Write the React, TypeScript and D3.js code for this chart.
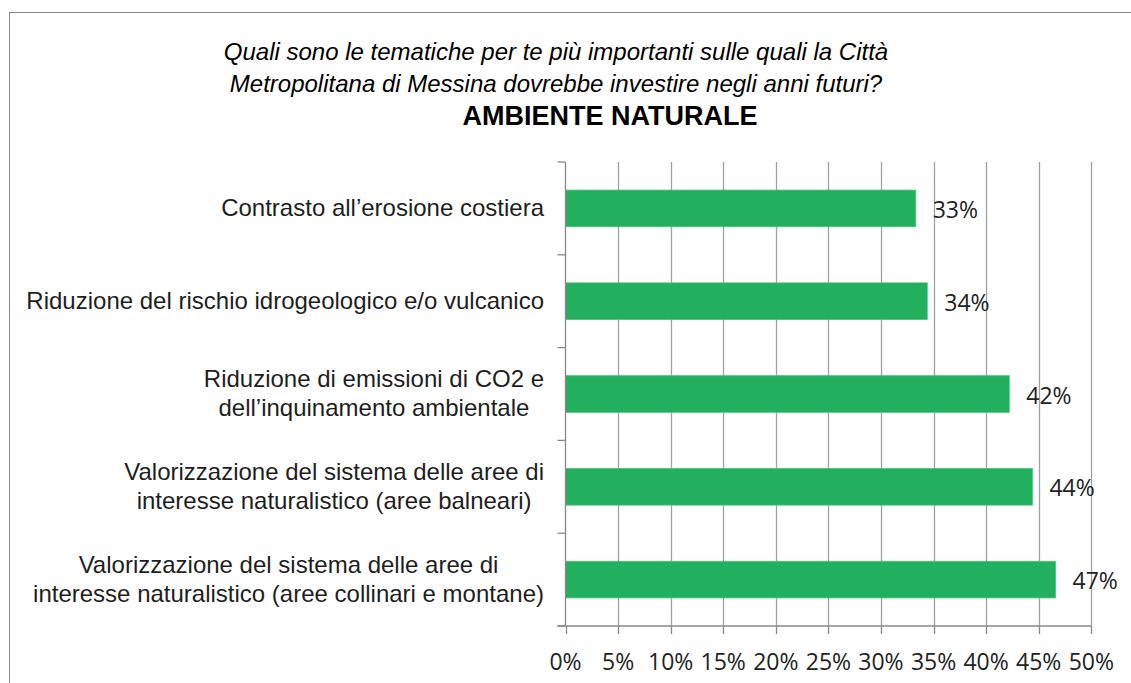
import React from "react";
import * as d3 from "d3";

const titleLines = [
  "Quali sono le tematiche per te più importanti sulle quali la Città",
  "Metropolitana di Messina dovrebbe investire negli anni futuri?",
];
const subtitle = "AMBIENTE NATURALE";

const categories: string[][] = [
  ["Contrasto all’erosione costiera"],
  ["Riduzione del rischio idrogeologico e/o vulcanico"],
  ["Riduzione di emissioni di CO2 e", "dell’inquinamento ambientale"],
  ["Valorizzazione del sistema delle aree di", "interesse naturalistico (aree balneari)"],
  ["Valorizzazione del sistema delle aree di", "interesse naturalistico (aree collinari e montane)"],
];
const values = [33.3, 34.4, 42.2, 44.4, 46.6];
const valueLabels = ["33%", "34%", "42%", "44%", "47%"];
const xTicks = [0, 5, 10, 15, 20, 25, 30, 35, 40, 45, 50];

const W = 1131;
const H = 683;
const plotLeft = 565.5;
const plotRight = 1091.3;
const plotTop = 162;
const plotBottom = 626;
const labelFont = "24px 'Liberation Sans', Arial, sans-serif";
const numFont = "'Open Sans', sans-serif";

let ctx: CanvasRenderingContext2D | null = null;
function measure(t: string) {
  if (!ctx) {
    const c = document.createElement("canvas");
    ctx = c.getContext("2d");
  }
  if (!ctx) return t.length * 12;
  ctx.font = labelFont;
  return ctx.measureText(t).width;
}

export default function App() {
  const x = d3.scaleLinear().domain([0, 50]).range([plotLeft, plotRight]);
  const y = d3
    .scaleBand<number>()
    .domain(d3.range(categories.length))
    .range([plotTop, plotBottom])
    .paddingInner(0.605)
    .paddingOuter(0.3025);
  const step = y.step();
  const bandEdges = d3.range(categories.length + 1).map((i) => plotTop + i * step);
  const labelRight = 544;
  const lineH = 28.8;

  return (
    <svg
      width={W}
      height={H}
      style={{ position: "absolute", left: 0, top: 0, background: "#fff" }}
    >
      <rect x={0} y={0} width={W} height={H} fill="#fff" />
      <rect x={9.5} y={12.5} width={1300} height={900} fill="none" stroke="#898989" strokeWidth={1} />

      {/* title */}
      <g fontFamily="'Liberation Sans', Arial, sans-serif" fill="#000">
        {titleLines.map((t, i) => (
          <text key={i} x={556} y={60 + i * 32} textAnchor="middle" fontSize={24} fontStyle="italic">
            {t}
          </text>
        ))}
        <text x={610} y={125} textAnchor="middle" fontSize={27} fontWeight="bold">
          {subtitle}
        </text>
      </g>

      {/* gridlines */}
      {xTicks.slice(1).map((t) => (
        <line
          key={t}
          x1={Math.round(x(t)) + 0.5}
          x2={Math.round(x(t)) + 0.5}
          y1={plotTop}
          y2={plotBottom}
          stroke="#a0a0a0"
          strokeWidth={1.3}
        />
      ))}

      {/* bars */}
      {values.map((v, i) => (
        <rect
          key={i}
          x={x(0)}
          y={y(i)}
          width={x(v) - x(0)}
          height={y.bandwidth()}
          fill="#22b05f"
          stroke="#4cc07c"
          strokeWidth={0.8}
        />
      ))}

      {/* axes */}
      <line x1={x(0)} x2={x(0)} y1={plotTop} y2={plotBottom} stroke="#888" strokeWidth={1.3} />
      {bandEdges.map((e, i) => (
        <line key={i} x1={x(0) - 8} x2={x(0)} y1={e} y2={e} stroke="#888" strokeWidth={1.3} />
      ))}
      <line x1={x(0) - 8} x2={x(50)} y1={plotBottom} y2={plotBottom} stroke="#888" strokeWidth={1.3} />
      {xTicks.map((t) => (
        <line
          key={t}
          x1={Math.round(x(t)) + 0.5}
          x2={Math.round(x(t)) + 0.5}
          y1={plotBottom}
          y2={plotBottom + 8}
          stroke="#888"
          strokeWidth={1.3}
        />
      ))}
      {xTicks.map((t) => (
        <text
          key={t}
          x={x(t)}
          y={670}
          textAnchor="middle"
          fontFamily={numFont}
          fontSize={23}
          fill="#222"
        >
          {t + "%"}
        </text>
      ))}

      {/* category labels */}
      {categories.map((lines, i) => {
        const maxW = Math.max(...lines.map(measure));
        const cx = labelRight - maxW / 2;
        const c = (y(i) as number) + y.bandwidth() / 2;
        const first = c - ((lines.length - 1) * lineH) / 2 + 7.5;
        return (
          <text
            key={i}
            fontFamily="'Liberation Sans', Arial, sans-serif"
            fontSize={24}
            fill="#1e1e1e"
            textAnchor="middle"
          >
            {lines.map((l, j) => (
              <tspan key={j} x={cx} y={first + j * lineH}>
                {l}
              </tspan>
            ))}
          </text>
        );
      })}

      {/* value labels */}
      {values.map((v, i) => (
        <text
          key={i}
          x={x(v) + 17}
          y={(y(i) as number) + y.bandwidth() / 2 + 9.5}
          fontFamily={numFont}
          fontSize={23}
          fill="#222"
        >
          {valueLabels[i]}
        </text>
      ))}
    </svg>
  );
}
